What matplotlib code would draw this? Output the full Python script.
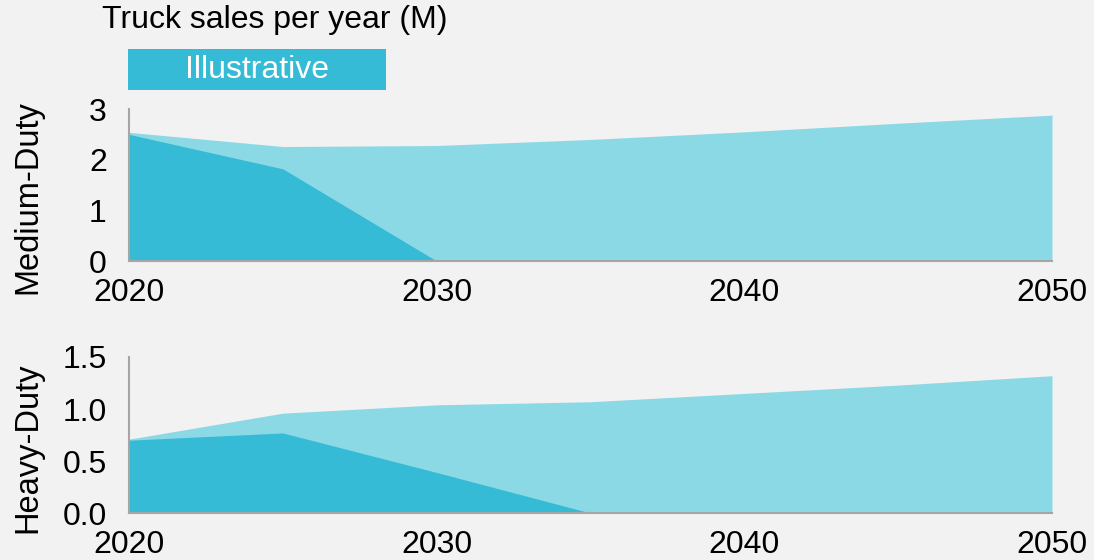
import matplotlib
matplotlib.use("Agg")
import matplotlib.pyplot as plt
from matplotlib.patches import Rectangle

plt.rcParams['font.family'] = ['Liberation Sans', 'DejaVu Sans']

years = [2020, 2025, 2030, 2035, 2040, 2045, 2050]
md_total = [2.54, 2.26, 2.28, 2.40, 2.55, 2.72, 2.88]
md_ice = [2.50, 1.82, 0.0, 0.0, 0.0, 0.0, 0.0]
hd_total = [0.71, 0.96, 1.04, 1.07, 1.15, 1.23, 1.32]
hd_ice = [0.70, 0.77, 0.39, 0.0, 0.0, 0.0, 0.0]

xticks = [2020, 2030, 2040, 2050]
md_yticks = [0, 1, 2, 3]
hd_yticks = [0.0, 0.5, 1.0, 1.5]

BG = '#f2f2f2'
DARK = '#35bbd6'
LIGHT = '#8cd9e6'
SPINE = '#a6a6a6'
FS = 23

fig = plt.figure(figsize=(10.94, 5.6), dpi=100, facecolor=BG)
ax1 = fig.add_axes([0.1179, 0.5339, 0.8437, 0.2714])
ax2 = fig.add_axes([0.1179, 0.0839, 0.8437, 0.2786])

def style(ax, total, ice, yticks, ylabels, ylabel, ylab_y):
    ax.set_facecolor(BG)
    ax.fill_between(years, 0, total, color=LIGHT, lw=0)
    ax.fill_between(years, 0, ice, color=DARK, lw=0)
    ax.set_xlim(2020, 2050)
    ax.set_ylim(yticks[0], yticks[-1])
    ax.set_xticks(xticks)
    ax.set_xticklabels([str(x) for x in xticks])
    ax.set_yticks(yticks)
    ax.set_yticklabels(ylabels)
    for s in ['top', 'right']:
        ax.spines[s].set_visible(False)
    for s in ['left', 'bottom']:
        ax.spines[s].set_color(SPINE)
        ax.spines[s].set_linewidth(1.5)
    ax.tick_params(axis='x', length=0, pad=12, labelsize=FS)
    ax.tick_params(axis='y', length=0, pad=16, labelsize=FS)
    ax.set_ylabel(ylabel, fontsize=23.5)
    ax.yaxis.set_label_coords(-0.093, ylab_y)

style(ax1, md_total, md_ice, md_yticks, ['0', '1', '2', '3'], 'Medium-Duty', 0.42)
style(ax2, hd_total, hd_ice, hd_yticks, ['0.0', '0.5', '1.0', '1.5'], 'Heavy-Duty', 0.42)

fig.text(275 / 1094, 1 - 20 / 560, 'Truck sales per year (M)', fontsize=FS,
         ha='center', va='center', color='black')
fig.patches.append(Rectangle((128 / 1094, 1 - 90 / 560), 258 / 1094, 41 / 560,
                             transform=fig.transFigure, facecolor=DARK, edgecolor='none'))
fig.text(257 / 1094, 1 - 70 / 560, 'Illustrative', fontsize=FS,
         ha='center', va='center', color='white')

fig.savefig('out.png', dpi=100, facecolor=BG)
